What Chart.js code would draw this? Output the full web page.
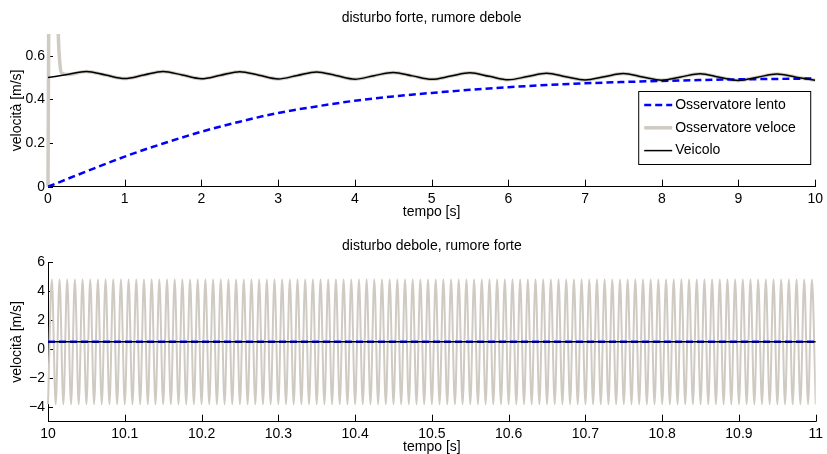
<!DOCTYPE html>
<html><head><meta charset="utf-8">
<script src="https://cdn.jsdelivr.net/npm/chart.js@4.4.1/dist/chart.umd.min.js"></script>
<style>
html,body{margin:0;padding:0;background:#fff;width:827px;height:454px;overflow:hidden}
canvas{display:block}
</style></head><body>
<canvas id="c1" width="827" height="227"></canvas>
<canvas id="c2" width="827" height="227"></canvas>
<script>
// ---------- TOP PANEL DATA (disturbo forte, rumore debole) ----------
const vehicleTime = [0,0.25,0.5,0.75,1,1.25,1.5,1.75,2,2.25,2.5,2.75,3,3.25,3.5,3.75,4,4.25,4.5,4.75,5,5.25,5.5,5.75,6,6.25,6.5,6.75,7,7.25,7.5,7.75,8,8.25,8.5,8.75,9,9.25,9.5,9.75,10];
const vehicleVel  = [0.500,0.514,0.528,0.512,0.496,0.512,0.528,0.512,0.495,0.511,0.527,0.511,0.494,0.510,0.526,0.510,0.493,0.509,0.524,0.508,0.492,0.507,0.522,0.506,0.490,0.505,0.520,0.504,0.489,0.504,0.519,0.503,0.488,0.503,0.518,0.502,0.487,0.502,0.517,0.502,0.488];

const slowTime = [0,0.5,1,1.5,2,2.5,3,3.5,4,4.5,5,5.5,6,6.5,7,7.5,8,8.5,9,9.5,10];
const slowVel  = [0,0.070,0.138,0.198,0.252,0.298,0.338,0.368,0.394,0.414,0.430,0.444,0.456,0.466,0.474,0.480,0.485,0.489,0.492,0.494,0.496];

const fastStartTime = [0,0.01,0.02,0.04,0.07,0.10,0.12,0.134,0.156,0.18];
const fastStartVel  = [0,0.8,1.5,2.0,1.9,1.4,0.95,0.70,0.56,0.52];

const xTicksTop = [0,1,2,3,4,5,6,7,8,9,10];
const xLabelsTop = ['0','1','2','3','4','5','6','7','8','9','10'];
const yTicksTop = [0,0.2,0.4,0.6];
const yLabelsTop = ['0','0.2','0.4','0.6'];

// ---------- BOTTOM PANEL DATA (disturbo debole, rumore forte) ----------
const noiseTime = [
10,10.005,10.01,10.015,10.02,10.025,10.03,10.035,10.04,10.045,10.05,10.055,10.06,10.065,10.07,10.075,10.08,10.085,10.09,10.095,
10.1,10.105,10.11,10.115,10.12,10.125,10.13,10.135,10.14,10.145,10.15,10.155,10.16,10.165,10.17,10.175,10.18,10.185,10.19,10.195,
10.2,10.205,10.21,10.215,10.22,10.225,10.23,10.235,10.24,10.245,10.25,10.255,10.26,10.265,10.27,10.275,10.28,10.285,10.29,10.295,
10.3,10.305,10.31,10.315,10.32,10.325,10.33,10.335,10.34,10.345,10.35,10.355,10.36,10.365,10.37,10.375,10.38,10.385,10.39,10.395,
10.4,10.405,10.41,10.415,10.42,10.425,10.43,10.435,10.44,10.445,10.45,10.455,10.46,10.465,10.47,10.475,10.48,10.485,10.49,10.495,
10.5,10.505,10.51,10.515,10.52,10.525,10.53,10.535,10.54,10.545,10.55,10.555,10.56,10.565,10.57,10.575,10.58,10.585,10.59,10.595,
10.6,10.605,10.61,10.615,10.62,10.625,10.63,10.635,10.64,10.645,10.65,10.655,10.66,10.665,10.67,10.675,10.68,10.685,10.69,10.695,
10.7,10.705,10.71,10.715,10.72,10.725,10.73,10.735,10.74,10.745,10.75,10.755,10.76,10.765,10.77,10.775,10.78,10.785,10.79,10.795,
10.8,10.805,10.81,10.815,10.82,10.825,10.83,10.835,10.84,10.845,10.85,10.855,10.86,10.865,10.87,10.875,10.88,10.885,10.89,10.895,
10.9,10.905,10.91,10.915,10.92,10.925,10.93,10.935,10.94,10.945,10.95,10.955,10.96,10.965,10.97,10.975,10.98,10.985,10.99,10.995,
11];
const fastNoisyVel = [
-3.8,4.8,-3.8,4.8,-3.8,4.8,-3.8,4.8,-3.8,4.8,-3.8,4.8,-3.8,4.8,-3.8,4.8,-3.8,4.8,-3.8,4.8,
-3.8,4.8,-3.8,4.8,-3.8,4.8,-3.8,4.8,-3.8,4.8,-3.8,4.8,-3.8,4.8,-3.8,4.8,-3.8,4.8,-3.8,4.8,
-3.8,4.8,-3.8,4.8,-3.8,4.8,-3.8,4.8,-3.8,4.8,-3.8,4.8,-3.8,4.8,-3.8,4.8,-3.8,4.8,-3.8,4.8,
-3.8,4.8,-3.8,4.8,-3.8,4.8,-3.8,4.8,-3.8,4.8,-3.8,4.8,-3.8,4.8,-3.8,4.8,-3.8,4.8,-3.8,4.8,
-3.8,4.8,-3.8,4.8,-3.8,4.8,-3.8,4.8,-3.8,4.8,-3.8,4.8,-3.8,4.8,-3.8,4.8,-3.8,4.8,-3.8,4.8,
-3.8,4.8,-3.8,4.8,-3.8,4.8,-3.8,4.8,-3.8,4.8,-3.8,4.8,-3.8,4.8,-3.8,4.8,-3.8,4.8,-3.8,4.8,
-3.8,4.8,-3.8,4.8,-3.8,4.8,-3.8,4.8,-3.8,4.8,-3.8,4.8,-3.8,4.8,-3.8,4.8,-3.8,4.8,-3.8,4.8,
-3.8,4.8,-3.8,4.8,-3.8,4.8,-3.8,4.8,-3.8,4.8,-3.8,4.8,-3.8,4.8,-3.8,4.8,-3.8,4.8,-3.8,4.8,
-3.8,4.8,-3.8,4.8,-3.8,4.8,-3.8,4.8,-3.8,4.8,-3.8,4.8,-3.8,4.8,-3.8,4.8,-3.8,4.8,-3.8,4.8,
-3.8,4.8,-3.8,4.8,-3.8,4.8,-3.8,4.8,-3.8,4.8,-3.8,4.8,-3.8,4.8,-3.8,4.8,-3.8,4.8,-3.8,4.8,
-3.8];
const flatTime = [10, 11];
const slowFlatVel = [0.5, 0.5];
const vehicleFlatVel = [0.5, 0.5];

const xTicksBottom = [10,10.1,10.2,10.3,10.4,10.5,10.6,10.7,10.8,10.9,11];
const xLabelsBottom = ['10','10.1','10.2','10.3','10.4','10.5','10.6','10.7','10.8','10.9','11'];
const yTicksBottom = [-4,-2,0,2,4,6];
const yLabelsBottom = ['\u22124','\u22122','0','2','4','6'];

const seriesNames = ['Osservatore lento','Osservatore veloce','Veicolo'];

// ---------- rendering ----------
const FONT = "'Liberation Sans', Arial, Helvetica, sans-serif";
Chart.defaults.font.family = FONT;
Chart.defaults.font.size = 14;
Chart.defaults.color = '#000';

const BLUE = '#0000ff', GREY = '#cfcbc3', BLACK = '#000000';
const pts = (xs, ys) => xs.map((x, i) => ({x: x, y: ys[i]}));

const inwardTicks = {
  id: 'inwardTicks',
  beforeDatasetsDraw(chart) {
    const {ctx, chartArea: a, scales: {x, y}} = chart;
    ctx.save();
    ctx.strokeStyle = '#000'; ctx.lineWidth = 1;
    ctx.beginPath();
    x.ticks.forEach(t => { const p = Math.round(x.getPixelForValue(t.value)) + 0.5; ctx.moveTo(p, a.bottom); ctx.lineTo(p, a.bottom - 7); });
    y.ticks.forEach(t => { const p = Math.round(y.getPixelForValue(t.value)) + 0.5; ctx.moveTo(a.left, p); ctx.lineTo(a.left + 5, p); });
    ctx.stroke();
    ctx.restore();
  }
};

const boxLegend = {
  id: 'boxLegend',
  afterDraw(chart, args, opts) {
    if (!opts.show) return;
    const {ctx, chartArea: a} = chart;
    const left = a.right - opts.fromRight, top = a.top + opts.fromTop;
    ctx.save();
    ctx.fillStyle = '#fff';
    ctx.fillRect(left, top, opts.width, opts.height);
    ctx.strokeStyle = '#000'; ctx.lineWidth = 1;
    ctx.strokeRect(left + 0.5, top + 0.5, opts.width, opts.height);
    chart.data.datasets.forEach((ds, i) => {
      const yy = top + opts.firstRow + i * opts.rowH;
      ctx.beginPath();
      ctx.setLineDash(ds.borderDash || []);
      ctx.strokeStyle = ds.borderColor; ctx.lineWidth = ds.borderWidth;
      ctx.moveTo(left + opts.sampleX, yy); ctx.lineTo(left + opts.sampleX + opts.sampleLen, yy);
      ctx.stroke();
      ctx.setLineDash([]);
      ctx.fillStyle = '#000'; ctx.font = '14px ' + FONT;
      ctx.textBaseline = 'middle'; ctx.textAlign = 'left';
      ctx.fillText(ds.label, left + opts.textX, yy);
    });
    ctx.restore();
  }
};

function makeChart(id, cfg) {
  return new Chart(document.getElementById(id), {
    type: 'line',
    data: {datasets: [
      {label: seriesNames[0], data: cfg.slow, borderColor: BLUE, borderWidth: 2.5, borderDash: [7, 4], order: 1},
      {label: seriesNames[1], data: cfg.fast, borderColor: GREY, borderWidth: cfg.greyWidth, order: 2, clip: {left: 3, top: 0, right: 0, bottom: 3}},
      {label: seriesNames[2], data: cfg.veh, borderColor: BLACK, borderWidth: 1.5, order: 0}
    ]},
    options: {
      responsive: false, animation: false, events: [],
      layout: {padding: {left: 0, right: 9, top: 0, bottom: cfg.padBottom}},
      elements: {point: {radius: 0}, line: {cubicInterpolationMode: 'monotone', borderCapStyle: 'butt', borderJoinStyle: 'round'}},
      plugins: {
        legend: {display: false}, tooltip: {enabled: false},
        title: {display: true, fullSize: false, text: cfg.title, color: '#000', font: {size: 14, weight: 'normal', lineHeight: 1.2}, padding: {top: cfg.titleTop, bottom: cfg.titleBottom}},
        boxLegend: Object.assign({show: cfg.legend}, {fromRight: 177, fromTop: 57, width: 172, height: 73, firstRow: 14, rowH: 22.8, sampleX: 6, sampleLen: 28, textX: 37})
      },
      scales: {
        x: {
          type: 'linear', min: cfg.xMin, max: cfg.xMax,
          grid: {display: false, drawTicks: false, tickLength: 0}, border: {display: true, color: '#000', width: 1},
          afterBuildTicks: s => { s.ticks = cfg.xTicks.map(v => ({value: v})); },
          afterFit: s => { s.height = 32.3; },
          ticks: {padding: 4, maxRotation: 0, autoSkip: false, color: '#000', font: {size: 14}, callback: (v, i) => cfg.xLabels[i]},
          title: {display: true, text: 'tempo [s]', color: '#000', font: {size: 14, lineHeight: 1}, padding: {top: 0, bottom: 0}}
        },
        y: {
          type: 'linear', min: cfg.yMin, max: cfg.yMax,
          grid: {display: false, drawTicks: false, tickLength: 0}, border: {display: true, color: '#000', width: 1},
          afterBuildTicks: s => { s.ticks = cfg.yTicks.map(v => ({value: v})); },
          afterFit: s => { s.width = 48; },
          ticks: {padding: 3, autoSkip: false, color: '#000', font: {size: 14}, callback: (v, i) => cfg.yLabels[i]},
          title: {display: true, text: 'velocità [m/s]', color: '#000', font: {size: 14, lineHeight: 1.2}, padding: {top: 8.3, bottom: 0}}
        }
      }
    },
    plugins: [inwardTicks, boxLegend]
  });
}

makeChart('c1', {
  title: 'disturbo forte, rumore debole', titleTop: 9.6, titleBottom: 7.6, padBottom: 8, legend: true,
  slow: pts(slowTime, slowVel),
  fast: pts(fastStartTime, fastStartVel).concat(pts(vehicleTime.slice(1), vehicleVel.slice(1))),
  veh: pts(vehicleTime, vehicleVel), greyWidth: 3.5,
  xMin: 0, xMax: 10, yMin: 0, yMax: 0.7,
  xTicks: xTicksTop, xLabels: xLabelsTop, yTicks: yTicksTop, yLabels: yLabelsTop
});

makeChart('c2', {
  title: 'disturbo debole, rumore forte', titleTop: 10.6, titleBottom: 7.6, padBottom: 0, legend: false,
  slow: pts(flatTime, slowFlatVel),
  fast: pts(noiseTime, fastNoisyVel),
  veh: pts(flatTime, vehicleFlatVel), greyWidth: 2,
  xMin: 10, xMax: 11, yMin: -5, yMax: 6,
  xTicks: xTicksBottom, xLabels: xLabelsBottom, yTicks: yTicksBottom, yLabels: yLabelsBottom
});
</script>
</body></html>
